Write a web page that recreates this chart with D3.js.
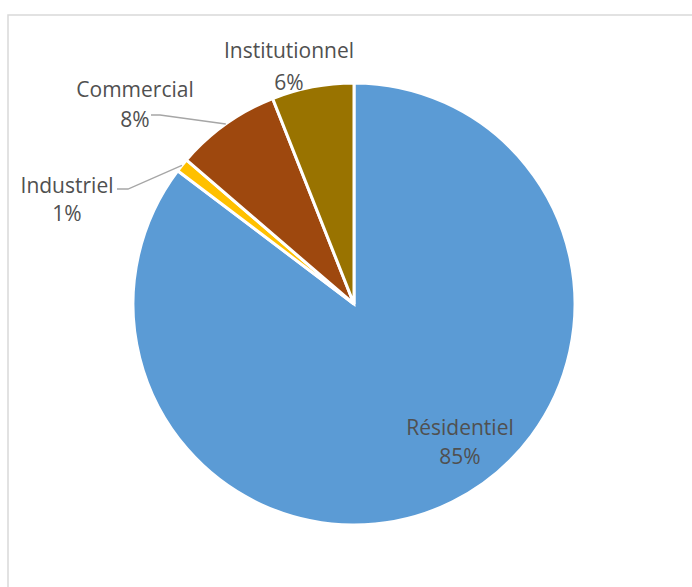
<html><head>
<meta charset="UTF-8">
<title>Répartition par secteur</title>
<script src="https://cdnjs.cloudflare.com/ajax/libs/d3/7.8.4/d3.min.js"></script>
<style>
  body { margin: 0; padding: 0; background: #fff; overflow: hidden; }
  #chart { width: 692px; height: 587px; }
  text { font-family: "Open Sans", "Liberation Sans", sans-serif; fill: #505050; }
</style>
</head>
<body>
<div id="chart"></div>
<script>
// data (clockwise from 12 o'clock)
var sectors = ['Résidentiel', 'Industriel', 'Commercial', 'Institutionnel'];
var shares = [85.3, 1.0, 7.7, 6.0];
var pctLabels = ['85%', '1%', '8%', '6%'];
var colors = ['#5b9bd5', '#ffc000', '#9e480e', '#997300'];

var width = 692, height = 587;
var cx = 354, cy = 304, radius = 221;

var svg = d3.select('#chart').append('svg')
  .attr('width', width)
  .attr('height', height);

// chart frame
svg.append('rect')
  .attr('x', 8).attr('y', 15)
  .attr('width', 720).attr('height', 620)
  .attr('fill', 'none')
  .attr('stroke', '#d9d9d9')
  .attr('stroke-width', 1.5);

var g = svg.append('g').attr('transform', 'translate(' + cx + ',' + cy + ')');

var pie = d3.pie().sort(null).value(function(d) { return d; });
var arcs = pie(shares);
var arc = d3.arc().innerRadius(0).outerRadius(radius);

g.selectAll('path.slice')
  .data(arcs)
  .enter().append('path')
  .attr('class', 'slice')
  .attr('d', arc)
  .attr('fill', function(d, i) { return colors[i]; })
  .attr('stroke', '#fff')
  .attr('stroke-width', 3)
  .attr('stroke-linejoin', 'miter');

// label placement (relative to pie centre): text centre x, first baseline y, line gap
var labelPos = {
  'Résidentiel': { x: 106, y: 131, dy: 29, leader: null },
  'Industriel': { x: -287, y: -111, dy: 28, leader: { x: -237, y: -115, elbow: -226 } },
  'Commercial': { x: -219, y: -207, dy: 30, leader: { x: -203, y: -189, elbow: -194 } },
  'Institutionnel': { x: -65, y: -246, dy: 32, leader: null }
};

function edgePoint(d) {
  var a = (d.startAngle + d.endAngle) / 2;
  return [radius * Math.sin(a), -radius * Math.cos(a)];
}

arcs.forEach(function(d, i) {
  var p = labelPos[sectors[i]];
  if (p.leader) {
    var e = edgePoint(d);
    g.append('polyline')
      .attr('points', [[p.leader.x, p.leader.y], [p.leader.elbow, p.leader.y], e].map(function(q) { return q.join(','); }).join(' '))
      .attr('fill', 'none')
      .attr('stroke', '#a6a6a6')
      .attr('stroke-width', 1.3);
  }
  var t = g.append('text')
    .attr('text-anchor', 'middle')
    .attr('font-size', '21px');
  t.append('tspan').attr('x', p.x).attr('y', p.y).text(sectors[i]);
  t.append('tspan').attr('x', p.x).attr('dy', p.dy).text(pctLabels[i]);
});
</script>
</body>
</html>
